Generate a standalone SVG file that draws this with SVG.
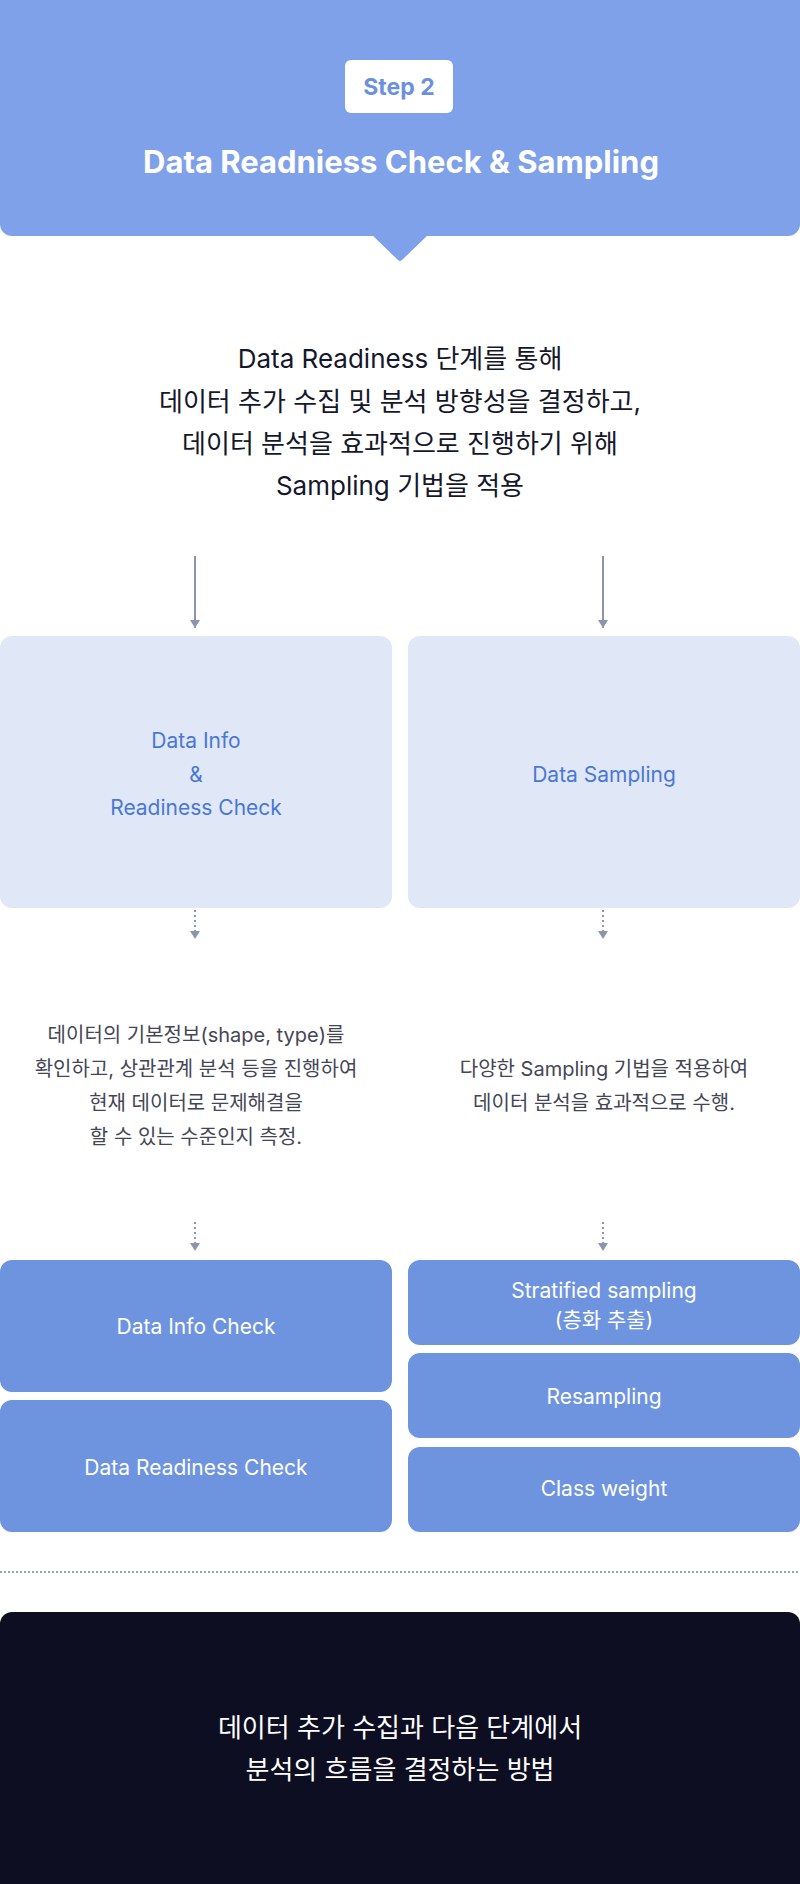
<svg xmlns="http://www.w3.org/2000/svg" width="800" height="1884" viewBox="0 0 800 1884">
<defs>
<style>
text{font-family:Inter,"Noto Sans CJK KR",sans-serif;text-anchor:middle;dominant-baseline:central}
.hdr{fill:#7FA1E9}
.light{fill:#E0E8F7}
.blue{fill:#6E94E0}
.dark{fill:#0D0E22}
.lt{font-size:21px;fill:#4A77D6}
.bt{font-size:21px;fill:#FFFFFF}
.main{font-size:26px;fill:#15172A}
.desc{font-size:20px;fill:#454655}
.foot{font-size:26px;fill:#FFFFFF}
.arr{stroke:#8C95AB;stroke-width:2;fill:none}
.dot{stroke-dasharray:2 3}
</style>
<marker id="ah" viewBox="0 0 8 10" refX="8" refY="5" markerWidth="8" markerHeight="10" markerUnits="userSpaceOnUse" orient="auto">
<path d="M0,0 L8,5 L0,10 z" fill="#8C95AB"/>
</marker>
</defs>
<g id="header">
<rect class="hdr" x="0" y="-12" width="800" height="248" rx="12"/>
<path class="hdr" d="M372,235 L428,235 L402,260 Q400,262 398,260 z"/>
<rect x="345" y="60" width="108" height="53" rx="6" fill="#FFFFFF"/>
<text x="399" y="87" font-size="23" font-weight="700" fill="#6C90E0">Step 2</text>
<text x="401" y="161" font-size="31" font-weight="700" fill="#FFFFFF">Data Readniess Check &amp; Sampling</text>
</g>
<g id="intro">
<text class="main" x="400" y="358">Data Readiness 단계를 통해</text>
<text class="main" x="400" y="401">데이터 추가 수집 및 분석 방향성을 결정하고,</text>
<text class="main" x="400" y="443">데이터 분석을 효과적으로 진행하기 위해</text>
<text class="main" x="400" y="485">Sampling 기법을 적용</text>
</g>
<g id="connectors">
<line class="arr" x1="195" y1="556" x2="195" y2="628" marker-end="url(#ah)"/>
<line class="arr" x1="603" y1="556" x2="603" y2="628" marker-end="url(#ah)"/>
<line class="arr dot" x1="195" y1="910" x2="195" y2="939" marker-end="url(#ah)"/>
<line class="arr dot" x1="603" y1="910" x2="603" y2="939" marker-end="url(#ah)"/>
<line class="arr dot" x1="195" y1="1222" x2="195" y2="1251" marker-end="url(#ah)"/>
<line class="arr dot" x1="603" y1="1222" x2="603" y2="1251" marker-end="url(#ah)"/>
</g>
<g id="data-info-readiness">
<rect class="light" x="0" y="636" width="392" height="272" rx="12"/>
<text class="lt" x="196" y="740">Data Info</text>
<text class="lt" x="196" y="774">&amp;</text>
<text class="lt" x="196" y="807">Readiness Check</text>
</g>
<g id="data-sampling">
<rect class="light" x="408" y="636" width="392" height="272" rx="12"/>
<text class="lt" x="604" y="774">Data Sampling</text>
</g>
<g id="desc-left">
<text class="desc" x="196" y="1035">데이터의 기본정보(shape, type)를</text>
<text class="desc" x="196" y="1069">확인하고, 상관관계 분석 등을 진행하여</text>
<text class="desc" x="196" y="1103">현재 데이터로 문제해결을</text>
<text class="desc" x="196" y="1137">할 수 있는 수준인지 측정.</text>
</g>
<g id="desc-right">
<text class="desc" x="604" y="1069">다양한 Sampling 기법을 적용하여</text>
<text class="desc" x="604" y="1103">데이터 분석을 효과적으로 수행.</text>
</g>
<g id="data-info-check">
<rect class="blue" x="0" y="1260" width="392" height="132" rx="12"/>
<text class="bt" x="196" y="1326">Data Info Check</text>
</g>
<g id="data-readiness-check">
<rect class="blue" x="0" y="1400" width="392" height="132" rx="12"/>
<text class="bt" x="196" y="1467">Data Readiness Check</text>
</g>
<g id="stratified">
<rect class="blue" x="408" y="1260" width="392" height="85" rx="12"/>
<text class="bt" x="604" y="1290">Stratified sampling</text>
<text class="bt" x="604" y="1319">(층화 추출)</text>
</g>
<g id="resampling">
<rect class="blue" x="408" y="1353" width="392" height="85" rx="12"/>
<text class="bt" x="604" y="1396">Resampling</text>
</g>
<g id="class-weight">
<rect class="blue" x="408" y="1447" width="392" height="85" rx="12"/>
<text class="bt" x="604" y="1488">Class weight</text>
</g>
<g id="separator">
<line x1="0" y1="1572" x2="800" y2="1572" stroke="#9AA2B8" stroke-width="2" stroke-dasharray="2 2"/>
</g>
<g id="summary">
<rect class="dark" x="0" y="1612" width="800" height="284" rx="12"/>
<text class="foot" x="400" y="1727">데이터 추가 수집과 다음 단계에서</text>
<text class="foot" x="400" y="1769">분석의 흐름을 결정하는 방법</text>
</g>
</svg>
